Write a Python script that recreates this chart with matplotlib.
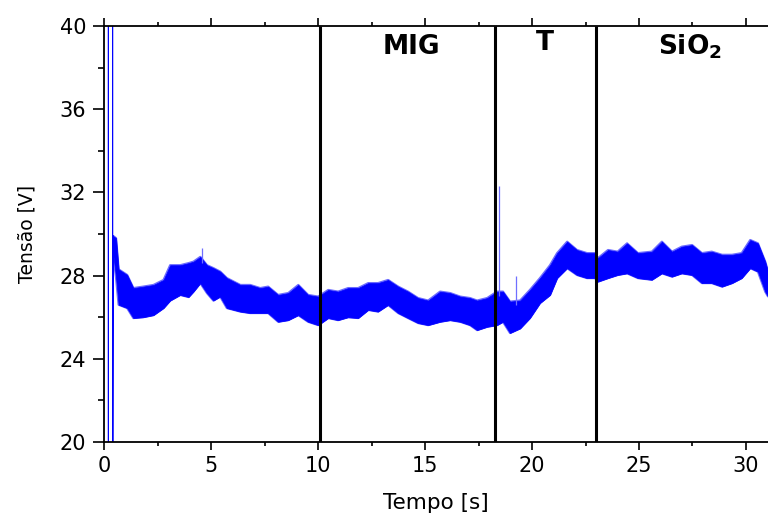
import matplotlib
matplotlib.use("Agg")
import matplotlib.pyplot as plt
import numpy as np

# Voltage trace envelope (time in s, upper / lower bound of the noisy signal in V)
time_s = [0.42, 0.55, 0.67, 1.07, 1.36, 1.82, 2.30, 2.77, 3.08, 3.55, 3.94, 4.17,
          4.49, 4.80, 5.10, 5.42, 5.73, 6.36, 6.82, 7.29, 7.66, 8.13, 8.60, 9.07,
          9.53, 10.00, 10.47, 10.93, 11.40, 11.87, 12.34, 12.80, 13.27, 13.74, 14.20,
          14.67, 15.14, 15.70, 16.17, 16.64, 17.10, 17.43, 17.90, 18.36, 18.64, 18.97,
          19.44, 19.90, 20.37, 20.84, 21.17, 21.64, 22.10, 22.57, 22.94, 23.08, 23.55,
          24.00, 24.44, 24.95, 25.60, 26.07, 26.54, 27.00, 27.48, 27.94, 28.40, 28.88,
          29.35, 29.80, 30.20, 30.56, 30.90, 31.03]
v_upper = [29.90, 29.80, 28.30, 28.03, 27.40, 27.47, 27.55, 27.79, 28.50, 28.50, 28.60, 28.67,
           28.90, 28.50, 28.36, 28.19, 27.88, 27.55, 27.55, 27.40, 27.47, 27.07, 27.16, 27.55,
           27.07, 26.99, 27.31, 27.23, 27.40, 27.40, 27.64, 27.64, 27.79, 27.47, 27.23,
           26.92, 26.80, 27.23, 27.16, 26.99, 26.92, 26.80, 26.92, 27.23, 27.23, 26.75,
           26.80, 27.31, 27.88, 28.50, 29.08, 29.63, 29.23, 29.08, 29.08, 28.84, 29.23,
           29.15, 29.55, 29.08, 29.15, 29.63, 29.15, 29.39, 29.47, 29.08, 29.15, 29.00,
           29.00, 29.08, 29.71, 29.55, 28.67, 28.20]
v_lower = [29.00, 27.90, 26.60, 26.44, 25.96, 26.00, 26.10, 26.44, 26.80, 27.07, 26.97, 27.23,
           27.64, 27.16, 26.80, 26.99, 26.44, 26.27, 26.20, 26.20, 26.20, 25.78, 25.86, 26.10,
           25.78, 25.62, 25.96, 25.86, 26.00, 25.96, 26.35, 26.27, 26.59, 26.20, 25.96,
           25.72, 25.62, 25.78, 25.86, 25.78, 25.62, 25.38, 25.54, 25.62, 25.78, 25.24,
           25.46, 25.96, 26.68, 27.07, 27.88, 28.36, 28.03, 27.88, 27.88, 27.71, 27.88,
           28.03, 28.11, 27.88, 27.80, 28.11, 27.95, 28.11, 28.03, 27.64, 27.64, 27.47,
           27.64, 27.88, 28.36, 28.19, 27.23, 27.00]

# Start-up transient of the arc (goes off scale in both directions)
start_t = [0.00, 0.19, 0.19, 0.39, 0.39, 0.42]
start_v = [15.0, 15.0, 45.0, 45.0, 15.0, 29.9]

# Isolated spikes (time, peak value)
spike_t = [4.56, 18.46, 19.23]
spike_v = [29.34, 32.30, 28.00]
spike_base = [28.60, 27.00, 26.60]

# Process phase boundaries and their labels
phase_bounds = [10.08, 18.28, 23.00]
phase_labels = ["MIG", "T", r"$\mathbf{SiO_2}$"]
phase_label_x = [14.35, 20.6, 27.4]
phase_label_y = [39.0, 39.2, 39.0]

x_ticks = [0, 5, 10, 15, 20, 25, 30]
y_ticks = [20, 24, 28, 32, 36, 40]

plt.rcParams["font.family"] = ["DejaVu Sans"]
plt.rcParams["mathtext.fontset"] = "dejavusans"

fig = plt.figure(figsize=(7.68, 5.16), dpi=100)
ax = fig.add_axes([0.1358, 0.1434, 1.0 - 0.1358, 0.8062])

blue = "#0000ff"
# light fringe of the noisy signal, then the dense core on top
ax.fill_between(time_s, v_lower, v_upper, facecolor="none", edgecolor="#6b6bff",
                linewidth=1.6, zorder=2)
ax.fill_between(time_s, v_lower, v_upper, facecolor=blue, edgecolor=blue,
                linewidth=0.5, zorder=2)
ax.plot(start_t, start_v, color=blue, linewidth=0.9, zorder=2)
ax.vlines(spike_t, spike_base, spike_v, color="#6f6fff", linewidth=0.9, zorder=2)

ax.vlines(phase_bounds, 20, 40, color="black", linewidth=2.2, zorder=3)

for lab, lx, ly in zip(phase_labels, phase_label_x, phase_label_y):
    ax.text(lx, ly, lab, ha="center", va="center", fontsize=19,
            fontweight="bold", color="black")

ax.set_xlim(0, 31.03)
ax.set_ylim(20, 40)
ax.set_xticks(x_ticks)
ax.set_yticks(y_ticks)
ax.set_xticks(np.arange(2.5, 31, 5), minor=True)
ax.set_yticks(np.arange(22, 40, 4), minor=True)

ax.spines["right"].set_visible(False)
for s in ("left", "bottom", "top"):
    ax.spines[s].set_linewidth(1.3)

ax.tick_params(axis="x", which="both", direction="out", top=True, bottom=True,
               labelsize=15, pad=4, width=1.2)
ax.tick_params(axis="x", which="major", length=6)
ax.tick_params(axis="x", which="minor", length=3)
ax.tick_params(axis="y", which="both", direction="out", left=True, right=False,
               labelsize=15, pad=5, width=1.2)
ax.tick_params(axis="y", which="major", length=8)
ax.tick_params(axis="y", which="minor", length=4)

ax.set_xlabel("Tempo [s]", fontsize=15.5, labelpad=12)
ax.set_ylabel("Tensão [V]", fontsize=13.5, labelpad=17)

fig.savefig("out.png", dpi=100)
